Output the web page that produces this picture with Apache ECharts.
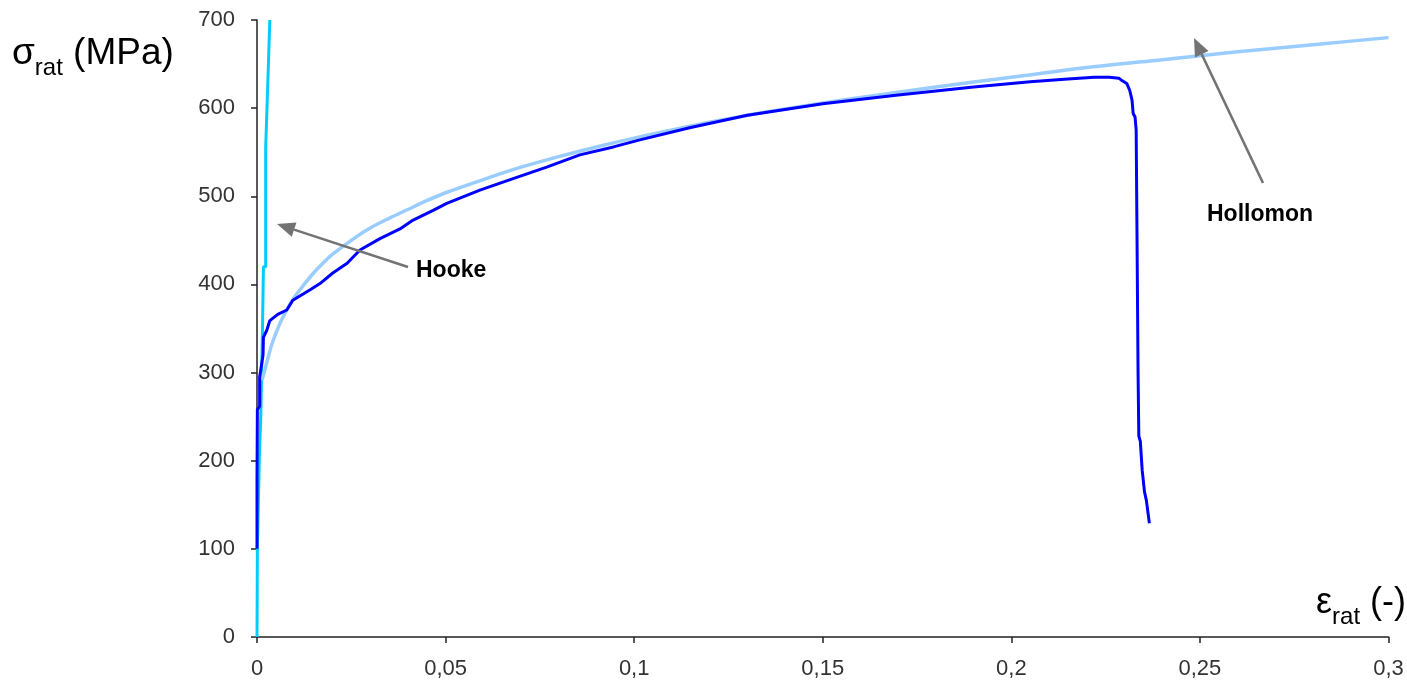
<!DOCTYPE html>
<html>
<head>
<meta charset="utf-8">
<script src="https://cdn.jsdelivr.net/npm/echarts@6/dist/echarts.min.js"></script>
<style>
html,body{margin:0;padding:0;background:#fff;}
#chart{width:1407px;height:681px;}
</style>
</head>
<body>
<div id="chart"></div>
<script>
// Tick labels
var xTicks = [0, 0.05, 0.1, 0.15, 0.2, 0.25, 0.3];
var yTicks = [0, 100, 200, 300, 400, 500, 600, 700];

// Hooke line (strain, stress)
var hookeStrain = [0, 0.0001, 0.0001, 0.0006, 0.0006, 0.001, 0.001, 0.0015, 0.0015, 0.0017, 0.0017, 0.0023, 0.0023, 0.0028, 0.0028, 0.0034];
var hookeStress = [0, 0, 100, 100, 200, 200, 250, 250, 360, 360, 420, 420, 555, 555, 620, 700];

// Hollomon fit
var hollStrain = [0.0013, 0.0019, 0.003, 0.004, 0.006, 0.008, 0.01, 0.0125, 0.015, 0.0175, 0.02, 0.025, 0.03, 0.035, 0.04, 0.045, 0.05, 0.06, 0.07, 0.08, 0.09, 0.1, 0.12, 0.14, 0.16, 0.18, 0.2, 0.22, 0.24, 0.26, 0.28, 0.3];
var hollStress = [291, 300, 318, 333, 355, 372, 386, 400, 413, 424, 434, 450, 464, 475, 485, 495, 504, 519, 533, 545, 556, 566, 584, 599, 612, 624, 635, 646, 655, 664, 672, 680];

// Experimental true stress-strain curve
var expStrain = [0, 0, 0.0001, 0.0007, 0.0007, 0.0016, 0.0017, 0.0026, 0.0034, 0.0055, 0.0079, 0.0095, 0.0141, 0.0167, 0.0201, 0.0239, 0.0273, 0.0326, 0.0379, 0.0414, 0.0467, 0.0503, 0.0591, 0.0679, 0.0768, 0.0856, 0.0945, 0.1015, 0.115, 0.13, 0.15, 0.17, 0.19, 0.205, 0.215, 0.222, 0.226, 0.2285, 0.2291, 0.2306, 0.2314, 0.232, 0.2323, 0.2328, 0.2331, 0.2333, 0.2336, 0.2338, 0.2342, 0.2347, 0.2353, 0.2358, 0.2366];
var expStress = [100, 180, 258, 262, 295, 320, 340, 348, 359, 366, 371, 382, 394, 401, 413, 424, 439, 452, 463, 473, 484, 492, 507, 520, 533, 547, 556, 564, 578, 592, 605, 615, 624, 630, 633, 635, 635, 634, 632, 628, 620, 609, 594, 590, 575, 467, 300, 228, 222, 189, 165, 155, 129];

function pairs(xs, ys){ return xs.map(function(x,i){ return [x, ys[i]]; }); }

// annotation arrows: [tailX, tailY, tipX, tipY] in pixels
var arrows = [[408, 267, 277, 224], [1263, 183, 1194, 38]];
function arrowGraphics(a){
  var dx = a[2]-a[0], dy = a[3]-a[1], L = Math.sqrt(dx*dx+dy*dy);
  var ux = dx/L, uy = dy/L, hl = 18, hw = 7.5;
  var bx = a[2]-hl*ux, by = a[3]-hl*uy;
  var px = -uy*hw, py = ux*hw;
  return [
    {type:'line', shape:{x1:a[0], y1:a[1], x2:bx, y2:by}, style:{stroke:'#737373', lineWidth:2.6}, z:100},
    {type:'polygon', shape:{points:[[a[2],a[3]],[bx+px,by+py],[bx-px,by-py]]}, style:{fill:'#737373'}, z:100}
  ];
}

var chart = echarts.init(document.getElementById('chart'));
var gfx = [].concat(arrowGraphics(arrows[0]), arrowGraphics(arrows[1]));
gfx.push({type:'text', left:416, top:259, style:{text:'Hooke', font:'bold 23px "Liberation Sans", Arial, sans-serif', fill:'#000'}, z:100});
gfx.push({type:'text', left:1207, top:203, style:{text:'Hollomon', font:'bold 23px "Liberation Sans", Arial, sans-serif', fill:'#000'}, z:100});
gfx.push({type:'text', left:12, top:35, style:{
  text:'{s|σ}{sub|rat}{s| (MPa)}',
  rich:{
    s:{fontFamily:'"Liberation Sans", Arial, sans-serif', fontSize:37, fill:'#000', verticalAlign:'bottom', lineHeight:42},
    sub:{fontFamily:'"Liberation Sans", Arial, sans-serif', fontSize:24, fill:'#000', verticalAlign:'bottom', lineHeight:32, padding:[0,0,-8,0]}
  }}, z:100});
gfx.push({type:'text', left:1316, top:585, style:{
  text:'{s|ε}{sub|rat}{s| (-)}',
  rich:{
    s:{fontFamily:'"Liberation Sans", Arial, sans-serif', fontSize:36, fill:'#000', verticalAlign:'bottom', lineHeight:41},
    sub:{fontFamily:'"Liberation Sans", Arial, sans-serif', fontSize:24, fill:'#000', verticalAlign:'bottom', lineHeight:32, padding:[0,0,-8,0]}
  }}, z:100});

chart.setOption({
  animation:false,
  backgroundColor:'#fff',
  grid:{left:257, right:18.5, top:20, bottom:44, containLabel:false},
  xAxis:{
    type:'value', min:xTicks[0], max:xTicks[xTicks.length-1], interval:0.05,
    axisLine:{lineStyle:{color:'#222', width:1.5}},
    axisTick:{show:true, length:6, lineStyle:{color:'#222', width:1.5}},
    splitLine:{show:false},
    axisLabel:{margin:21, color:'#333', fontSize:22, fontFamily:'"Liberation Sans", Arial, sans-serif',
      formatter:function(v){ return String(Math.round(v*100)/100).replace('.', ','); }}
  },
  yAxis:{
    type:'value', min:yTicks[0], max:yTicks[yTicks.length-1], interval:100,
    axisLine:{show:true, lineStyle:{color:'#222', width:1.5}},
    axisTick:{show:true, length:6, lineStyle:{color:'#222', width:1.5}},
    splitLine:{show:false},
    axisLabel:{margin:22, color:'#333', fontSize:22, fontFamily:'"Liberation Sans", Arial, sans-serif'}
  },
  series:[
    {name:'Hooke', type:'line', data:pairs(hookeStrain, hookeStress), showSymbol:false, symbol:'none',
      lineStyle:{color:'#00CCFF', width:3}, z:3},
    {name:'Hollomon', type:'line', data:pairs(hollStrain, hollStress), showSymbol:false, symbol:'none', smooth:0.3,
      lineStyle:{color:'#99CCFF', width:3.5}, z:4},
    {name:'Experimental', type:'line', data:pairs(expStrain, expStress), showSymbol:false, symbol:'none',
      lineStyle:{color:'#0000FF', width:3}, z:5}
  ],
  graphic:gfx
});
</script>
</body>
</html>
